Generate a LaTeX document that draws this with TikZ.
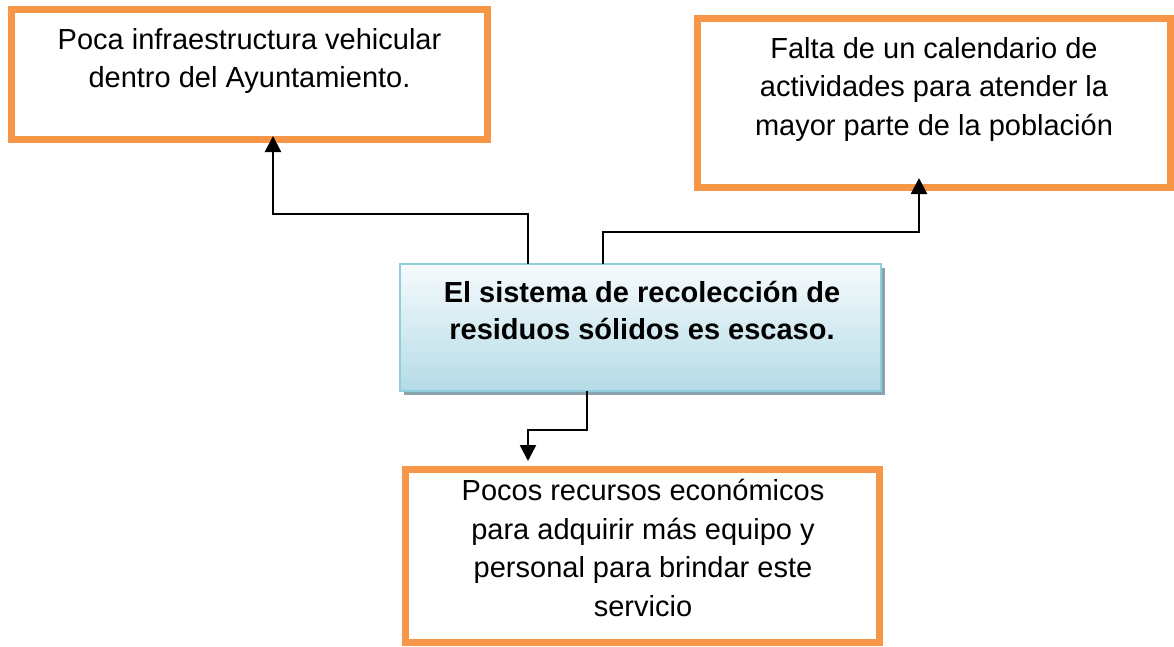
\documentclass[tikz,border=0pt]{standalone}
\usepackage{fontspec}
\setmainfont{Liberation Sans}
\usetikzlibrary{arrows.meta,shadows}
\definecolor{orng}{HTML}{F79646}
\definecolor{bluebd}{HTML}{92CDDC}
\definecolor{bluetop}{HTML}{F6FBFD}
\definecolor{bluebot}{HTML}{B4DBE6}
\definecolor{shadowc}{HTML}{8AA3AD}
\begin{document}
\begin{tikzpicture}[x=1pt,y=-1pt,
  obox/.style={draw=orng, line width=7pt, fill=white, rectangle, inner sep=0pt, outer sep=0pt},
  cbox/.style={draw=bluebd, line width=2pt, rectangle, inner sep=0pt, outer sep=0pt,
     top color=bluetop, bottom color=bluebot,
     general shadow={shadow xshift=3.5pt, shadow yshift=-3.5pt, fill=shadowc}},
  txt/.style={anchor=north, inner sep=0pt, align=center, font=\fontsize{29}{38.5}\selectfont},
  btxt/.style={txt, font=\fontsize{29}{37.5}\selectfont\bfseries},
  conn/.style={draw=black, line width=2.4pt},
  arr/.style={conn, -{Triangle[length=16pt,width=16pt]}}]
\useasboundingbox[fill=white] (0,0) rectangle (1174,646);
% boxes
\node[obox, minimum width=475.5pt, minimum height=129.5pt] (b1) at (249.25,74.25) {};
\node[obox, minimum width=473.5pt, minimum height=169pt] (b2) at (933.75,103) {};
\node[cbox, minimum width=481pt, minimum height=127pt] (b0) at (640.5,327.5) {};
\node[obox, minimum width=474pt, minimum height=173pt] (b3) at (642.5,556) {};
% texts
\node[txt] (t1) at (249.5,28) {Poca infraestructura vehicular\\dentro del Ayuntamiento.};
\node[txt] (t2) at (934,37) {Falta de un calendario de\\actividades para atender la\\mayor parte de la población};
\node[btxt] (t0) at (642,281) {El sistema de recolección de\\residuos sólidos es escaso.};
\node[txt] (t3) at (643,479) {Pocos recursos económicos\\para adquirir más equipo y\\personal para brindar este\\servicio};
% connectors
\coordinate (k1) at (528,214);
\coordinate (k2) at (273,214);
\coordinate (k3) at (603,232);
\coordinate (k4) at (919,232);
\coordinate (k5) at (587,430);
\coordinate (k6) at (528,430);
\coordinate (e1) at (273,136);
\coordinate (e2) at (919,178);
\coordinate (e3) at (528,461);
\draw[arr] (b0.north -| k1) -- (k1) -- (k2) -- (e1);
\draw[arr] (b0.north -| k3) -- (k3) -- (k4) -- (e2);
\draw[arr] (b0.south -| k5) -- (k5) -- (k6) -- (e3);
\end{tikzpicture}
\end{document}
